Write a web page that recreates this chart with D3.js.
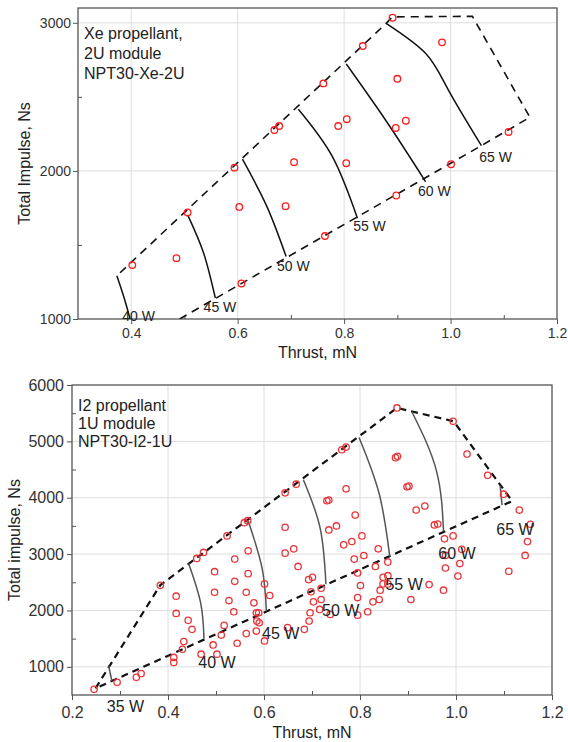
<!DOCTYPE html>
<html>
<head>
<meta charset="utf-8">
<script src="https://cdn.jsdelivr.net/npm/d3@7"></script>
<style>
body { margin: 0; background: #fff; }
text { font-family: "Liberation Sans", Arial, sans-serif; }
</style>
</head>
<body>
<div id="chart"></div>
<script>
// ---- Xe propellant, 2U module (top panel) ----
var xeXTicks = [0.4, 0.6, 0.8, 1.0, 1.2];
var xeXMinor = [0.5, 0.7, 0.9, 1.1];
var xeYTicks = [1000, 2000, 3000];
var xeYMinor = [1500, 2500];
var xeNote = ["Xe propellant,", "2U module", "NPT30-Xe-2U"];

var xePoints = [
  [0.402, 1364], [0.485, 1411], [0.506, 1719], [0.594, 2022], [0.603, 1757],
  [0.607, 1240], [0.669, 2276], [0.678, 2303], [0.706, 2059], [0.690, 1762],
  [0.891, 3034], [0.835, 2843], [0.984, 2868], [0.761, 2591], [0.900, 2622],
  [0.789, 2303], [0.805, 2349], [0.897, 2290], [0.916, 2339], [0.804, 2052],
  [1.001, 2045], [1.109, 2263], [0.898, 1834], [0.764, 1560]
];

var xeBoundary = [
  [0.491, 1000], [1.058, 2171], [1.149, 2362], [1.041, 3044],
  [0.891, 3040], [0.879, 2996], [0.373, 1292]
];

var xeCurves = [
  [[0.373, 1292], [0.386, 1150], [0.398, 1000]],
  [[0.506, 1703], [0.536, 1445], [0.558, 1142]],
  [[0.609, 2079], [0.655, 1759], [0.691, 1422]],
  [[0.714, 2416], [0.778, 2096], [0.825, 1681]],
  [[0.804, 2722], [0.880, 2332], [0.953, 1928]],
  [[0.879, 2996], [0.953, 2794], [0.996, 2546], [1.058, 2171]]
];

var xeLabels = [
  ["40 W", 0.383, 989], ["45 W", 0.536, 1049], ["50 W", 0.674, 1326],
  ["55 W", 0.817, 1595], ["60 W", 0.939, 1831], ["65 W", 1.054, 2061]
];

// ---- I2 propellant, 1U module (bottom panel) ----
var i2XTicks = [0.2, 0.4, 0.6, 0.8, 1.0, 1.2];
var i2XMinor = [0.3, 0.5, 0.7, 0.9, 1.1];
var i2YTicks = [1000, 2000, 3000, 4000, 5000, 6000];
var i2YMinor = [1500, 2500, 3500, 4500, 5500];
var i2Note = ["I2 propellant", "1U module", "NPT30-I2-1U"];

var i2Points = [
  [0.246, 600], [0.294, 725], [0.334, 813], [0.344, 880], [0.412, 1078],
  [0.412, 1166], [0.430, 1312], [0.433, 1448], [0.450, 1665], [0.442, 1824],
  [0.417, 1947], [0.417, 2253], [0.384, 2446], [0.460, 2923], [0.474, 3029],
  [0.523, 3323], [0.559, 3557], [0.566, 3592], [0.644, 4087], [0.667, 4240],
  [0.644, 3476], [0.644, 3017], [0.662, 3093], [0.671, 2781], [0.567, 3058],
  [0.539, 2911], [0.497, 2688], [0.567, 2653], [0.539, 2517], [0.497, 2323],
  [0.563, 2323], [0.601, 2471], [0.612, 2265], [0.527, 2176], [0.579, 2136],
  [0.537, 1977], [0.584, 1959], [0.589, 1959], [0.585, 1811], [0.590, 1782],
  [0.517, 1735], [0.511, 1564], [0.584, 1635], [0.563, 1589], [0.601, 1459],
  [0.544, 1418], [0.494, 1388], [0.469, 1224], [0.502, 1224], [0.649, 1695],
  [0.877, 5593], [0.762, 4851], [0.771, 4898], [0.874, 4711], [0.878, 4735],
  [0.771, 4158], [0.731, 3946], [0.735, 3958], [0.898, 4193], [0.902, 4205],
  [0.917, 3782], [0.935, 3853], [0.790, 3693], [0.955, 3517], [0.962, 3534],
  [0.735, 3428], [0.751, 3499], [0.804, 3323], [0.766, 3164], [0.783, 3223],
  [0.838, 3094], [0.788, 2911], [0.808, 2975], [0.832, 2781], [0.858, 2858],
  [0.795, 2665], [0.693, 2547], [0.701, 2588], [0.801, 2441], [0.848, 2588],
  [0.858, 2617], [0.848, 2471], [0.858, 2471], [0.842, 2359], [0.698, 2330],
  [0.719, 2394], [0.795, 2229], [0.703, 2153], [0.719, 2194], [0.827, 2153],
  [0.840, 2194], [0.906, 2194], [0.944, 2459], [0.974, 2359], [0.976, 3270],
  [0.978, 2753], [0.696, 1959], [0.716, 2018], [0.738, 1930], [0.795, 1917],
  [0.816, 1977], [0.694, 1811], [0.684, 1665],
  [0.994, 5356], [1.023, 4774], [1.066, 4399], [1.099, 4063], [1.132, 3781],
  [1.155, 3529], [1.149, 3222], [1.144, 2976], [1.110, 2694], [0.994, 3323],
  [1.012, 3085], [0.978, 2976], [1.008, 2832], [1.004, 2610]
];

var i2Boundary = [
  [0.249, 618], [0.384, 2450], [0.877, 5593], [0.995, 5356],
  [1.117, 3940], [0.249, 618]
];

var i2Curves = [
  [[0.276, 1030], [0.283, 753]],
  [[0.443, 2835], [0.468, 2136], [0.475, 1500]],
  [[0.567, 3590], [0.596, 2750], [0.605, 1988]],
  [[0.682, 4320], [0.717, 3460], [0.729, 2470]],
  [[0.798, 5070], [0.840, 4070], [0.862, 2960]],
  [[0.908, 5525], [0.959, 4486], [0.974, 3400]],
  [[1.092, 4205], [1.096, 3870]]
];

var i2Labels = [
  ["35 W", 0.2725, 190], ["40 W", 0.463, 977], ["45 W", 0.596, 1489],
  ["50 W", 0.721, 1894], ["55 W", 0.853, 2370], ["60 W", 0.963, 2917],
  ["65 W", 1.084, 3332]
];

var svg = d3.select("#chart").append("svg")
    .attr("width", 568)
    .attr("height", 742);

function panel(o) {
  var x = d3.scaleLinear().domain(o.xDomain).range([o.left, o.right]);
  var y = d3.scaleLinear().domain(o.yDomain).range([o.bottom, o.top]);
  var g = svg.append("g");

  // grid
  g.selectAll(".gx").data(o.xTicks.filter(function(v){ return v > o.xDomain[0] && v < o.xDomain[1]; }))
    .enter().append("line")
    .attr("x1", function(d){ return x(d); }).attr("x2", function(d){ return x(d); })
    .attr("y1", o.top).attr("y2", o.bottom)
    .attr("stroke", "#dedede").attr("stroke-width", 1);
  g.selectAll(".gy").data(o.yTicks.filter(function(v){ return v > o.yDomain[0] && v < o.yDomain[1]; }))
    .enter().append("line")
    .attr("x1", o.left).attr("x2", o.right)
    .attr("y1", function(d){ return y(d); }).attr("y2", function(d){ return y(d); })
    .attr("stroke", "#dedede").attr("stroke-width", 1);

  // axes
  var xa = g.append("g").attr("transform", "translate(0," + o.bottom + ")")
    .call(d3.axisBottom(x).tickValues(o.xTicks).tickFormat(d3.format(".1f"))
      .tickSize(o.tickSize).tickPadding(o.xPad));
  var xm = g.append("g").attr("transform", "translate(0," + o.bottom + ")")
    .call(d3.axisBottom(x).tickValues(o.xMinor).tickFormat("").tickSize(-4));
  var ya = g.append("g").attr("transform", "translate(" + o.left + ",0)")
    .call(d3.axisLeft(y).tickValues(o.yTicks).tickFormat(d3.format("d"))
      .tickSize(o.tickSize).tickPadding(o.yPad));
  var ym = g.append("g").attr("transform", "translate(" + o.left + ",0)")
    .call(d3.axisLeft(y).tickValues(o.yMinor).tickFormat("").tickSize(-4));
  [xa, xm, ya, ym].forEach(function(a) {
    a.select(".domain").remove();
    a.selectAll("line").attr("stroke", "#555");
    a.selectAll("text").attr("fill", "#333").style("font-size", o.tickFont + "px")
      .style("font-family", '"Liberation Sans", Arial, sans-serif');
  });

  // frame
  g.append("rect")
    .attr("x", o.left).attr("y", o.top)
    .attr("width", o.right - o.left).attr("height", o.bottom - o.top)
    .attr("fill", "none").attr("stroke", "#555").attr("stroke-width", 1.3);

  var clipId = "clip" + o.id;
  svg.append("clipPath").attr("id", clipId).append("rect")
    .attr("x", o.left).attr("y", o.top)
    .attr("width", o.right - o.left).attr("height", o.bottom - o.top);
  var plot = g.append("g").attr("clip-path", "url(#" + clipId + ")");

  var line = d3.line().x(function(d){ return x(d[0]); }).y(function(d){ return y(d[1]); });
  var curve = d3.line().x(function(d){ return x(d[0]); }).y(function(d){ return y(d[1]); })
    .curve(d3.curveNatural);

  plot.append("path")
    .attr("d", line(o.boundary))
    .attr("fill", "none")
    .attr("stroke", "#111")
    .attr("stroke-width", o.dashWidth)
    .attr("stroke-dasharray", o.dash);

  plot.selectAll(".pw").data(o.curves).enter().append("path")
    .attr("d", function(d){ return curve(d); })
    .attr("fill", "none")
    .attr("stroke", o.curveColor)
    .attr("stroke-width", 1.5);

  plot.selectAll(".pt").data(o.points).enter().append("circle")
    .attr("cx", function(d){ return x(d[0]); })
    .attr("cy", function(d){ return y(d[1]); })
    .attr("r", o.r)
    .attr("fill", "none")
    .attr("stroke", o.pointColor)
    .attr("stroke-width", 1.3);

  g.selectAll(".lbl").data(o.labels).enter().append("text")
    .attr("x", function(d){ return x(d[1]); })
    .attr("y", function(d){ return y(d[2]); })
    .attr("fill", "#222")
    .style("font-size", o.labelFont + "px")
    .text(function(d){ return d[0]; });

  g.selectAll(".note").data(o.note).enter().append("text")
    .attr("x", o.left + 6)
    .attr("y", function(d, i){ return o.noteY + i * o.noteStep; })
    .attr("fill", "#222")
    .style("font-size", "16px")
    .text(function(d){ return d; });

  g.append("text")
    .attr("x", (o.left + o.right) / 2)
    .attr("y", o.xTitleY)
    .attr("text-anchor", "middle")
    .attr("fill", "#222")
    .style("font-size", "16px")
    .text("Thrust, mN");

  g.append("text")
    .attr("transform", "translate(" + o.yTitleX + "," + ((o.top + o.bottom) / 2) + ") rotate(-90)")
    .attr("text-anchor", "middle")
    .attr("fill", "#222")
    .style("font-size", "16px")
    .text(o.yTitle);
}

panel({
  id: "xe", left: 78, right: 557, top: 8, bottom: 319,
  xDomain: [0.3, 1.2], yDomain: [1000, 3100],
  xTicks: xeXTicks, xMinor: xeXMinor, yTicks: xeYTicks, yMinor: xeYMinor,
  tickSize: 5, xPad: 4, yPad: 2, tickFont: 14, labelFont: 14,
  points: xePoints, boundary: xeBoundary, curves: xeCurves, labels: xeLabels,
  dash: "8,6", dashWidth: 1.6, curveColor: "#111", pointColor: "#ff1a1a", r: 3.3,
  note: xeNote, noteY: 39, noteStep: 20,
  xTitleY: 358, yTitleX: 30, yTitle: "Total Impulse, Ns"
});

panel({
  id: "i2", left: 72, right: 552, top: 385, bottom: 695,
  xDomain: [0.2, 1.2], yDomain: [500, 6000],
  xTicks: i2XTicks, xMinor: i2XMinor, yTicks: i2YTicks, yMinor: i2YMinor,
  tickSize: 5, xPad: 7, yPad: 3, tickFont: 16, labelFont: 16,
  points: i2Points, boundary: i2Boundary, curves: i2Curves, labels: i2Labels,
  dash: "7,5", dashWidth: 2.2, curveColor: "#555", pointColor: "#e8353a", r: 3.2,
  note: i2Note, noteY: 411, noteStep: 18,
  xTitleY: 738, yTitleX: 20, yTitle: "Total impulse, Ns"
});
</script>
</body>
</html>
